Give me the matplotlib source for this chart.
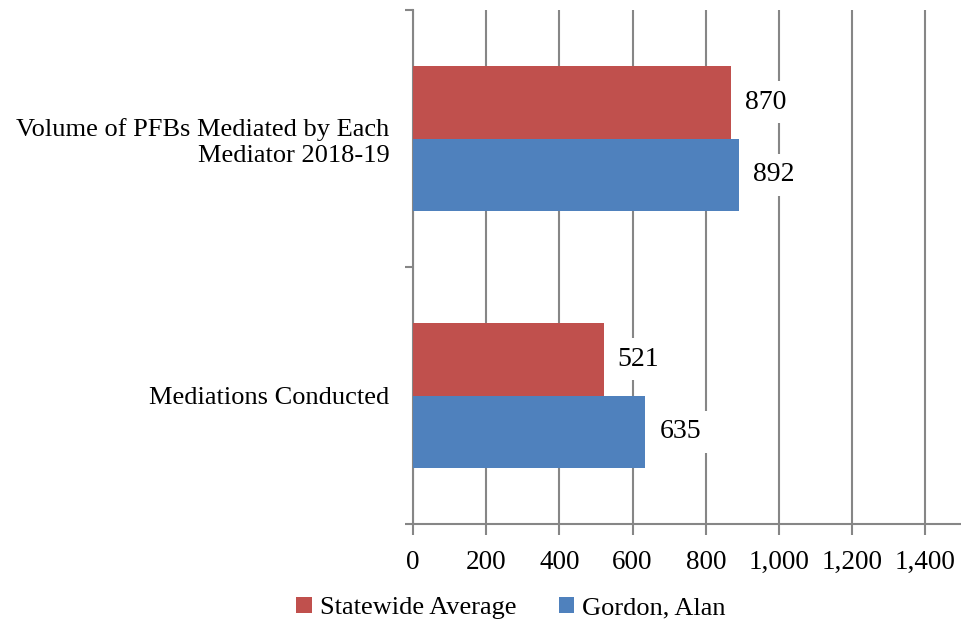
import matplotlib.pyplot as plt

# Data
categories = ['Mediations Conducted', 'Volume of PFBs Mediated by Each\nMediator 2018-19']
statewide = [521, 870]
gordon = [635, 892]
series_names = ['Statewide Average', 'Gordon, Alan']
x_ticks = [0, 200, 400, 600, 800, 1000, 1200, 1400]

red = '#C0504D'
blue = '#4F81BD'
grid_col = '#868686'

plt.rcParams['font.family'] = ['Liberation Serif', 'DejaVu Serif']

fig = plt.figure(figsize=(9.62, 6.28), dpi=100)
ax = fig.add_axes([413 / 962, 1 - 524 / 628, 549 / 962, 514 / 628])

h = 0.284
centers = [0.5, 1.5]
b1 = ax.barh([c + h / 2 for c in centers], statewide, height=h, color=red,
             label=series_names[0], zorder=3)
b2 = ax.barh([c - h / 2 for c in centers], gordon, height=h, color=blue,
             label=series_names[1], zorder=3)

# value labels with white box (cuts the gridlines like the original)
for bars in (b1, b2):
    for rect in bars:
        w = rect.get_width()
        ax.annotate(f'{w:,.0f}', (w, rect.get_y() + rect.get_height() / 2),
                    xytext=(14, 0), textcoords='offset pixels',
                    ha='left', va='center', fontsize=20, zorder=4,
                    bbox=dict(boxstyle='square,pad=0.3', fc='white', ec='none'))

ax.set_xlim(0, 1500)
ax.set_ylim(0, 2)
ax.set_xticks(x_ticks)
ax.set_xticklabels([f'{v:,}' for v in x_ticks], fontsize=19.5)
ax.xaxis.grid(True, color=grid_col, linewidth=1.5, zorder=0)
ax.set_axisbelow(True)

ax.set_yticks([0, 1, 2])
ax.set_yticklabels([])
ax.set_yticks(centers, minor=True)
ax.set_yticklabels(categories, minor=True, fontsize=19, ha='right')
ax.tick_params(axis='y', which='minor', length=0, pad=17)
ax.tick_params(axis='y', which='major', length=6, width=1.5, color=grid_col)
ax.tick_params(axis='x', length=8, width=1.5, color=grid_col, pad=11)

for s in ('top', 'right'):
    ax.spines[s].set_visible(False)
for s in ('left', 'bottom'):
    ax.spines[s].set_color(grid_col)
    ax.spines[s].set_linewidth(1.5)

fig.legend(handles=[b1, b2], loc='center', bbox_to_anchor=(511 / 962, 1 - 608 / 628),
           ncol=2, frameon=False, fontsize=19, handlelength=0.6, handleheight=0.6,
           handletextpad=0.3, columnspacing=1.6)

fig.savefig('out.png', dpi=100)
